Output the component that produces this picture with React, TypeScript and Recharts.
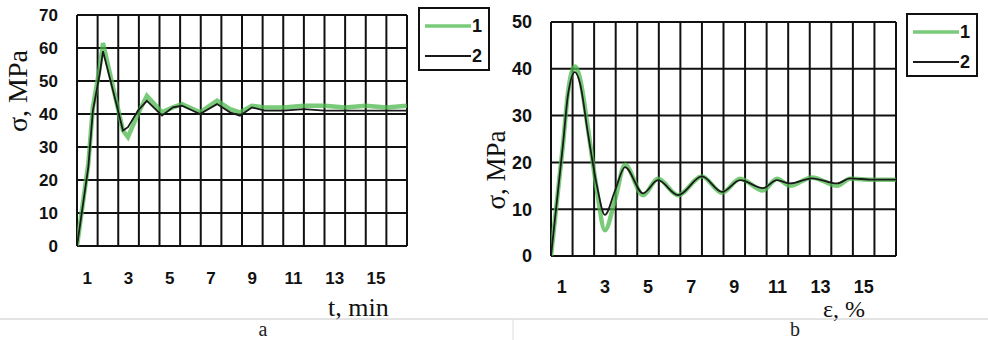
import React from "react";
import { LineChart, Line, XAxis, YAxis, CartesianGrid, ReferenceLine, Legend } from "recharts";

// panel a: stress vs time
const tA = [0.5, 1.05, 1.27, 1.6, 1.76, 2.25, 2.73, 2.97, 3.45, 3.89, 4.62, 5.15, 5.59, 6.12, 6.46, 7.29, 7.92, 8.4, 8.98, 9.6, 10.5, 11.5, 12.5, 13.5, 14.5, 15.5, 16.5];
const s1A = [0, 25, 42, 54, 61.5, 48, 35, 33, 40, 45.5, 40.5, 42, 43, 41.5, 40.5, 44, 41.5, 40.5, 42.5, 42, 42, 42.5, 42.5, 42, 42.5, 42, 42.5];
const s2A = [0, 24, 41, 52, 59, 47, 35, 36, 41, 44, 39.5, 42, 42.5, 41, 40, 43, 40.5, 39.5, 42, 41, 41, 41.5, 41, 41, 41, 41, 41];

// panel b: stress vs strain
const tB = [0.5, 1.06, 1.29, 1.61, 1.84, 2.22, 2.63, 3.0, 3.47, 3.93, 4.77, 5.46, 6.39, 7.5, 8.43, 9.27, 10.33, 10.98, 11.58, 12.6, 13.77, 14.37, 15.4, 16.5];
const s1B = [0, 24, 35, 40.5, 38, 27, 14, 5.5, 12, 19.5, 13, 16.5, 13, 17, 13.5, 16.5, 14, 16.5, 15, 16.8, 15, 16.5, 16.3, 16.3];
const s2B = [0, 24, 34.5, 39.3, 37, 26, 15, 8.8, 14, 19, 13.4, 16.2, 13, 17, 13.7, 16.2, 14.5, 16.2, 15.5, 16.6, 15.5, 16.6, 16.3, 16.3];

const xTicks = [1, 3, 5, 7, 9, 11, 13, 15];
const cellEdges = [0.5, 1.5, 2.5, 3.5, 4.5, 5.5, 6.5, 7.5, 8.5, 9.5, 10.5, 11.5, 12.5, 13.5, 14.5, 15.5, 16.5];
const yTicksA = [0, 10, 20, 30, 40, 50, 60, 70];
const yTicksB = [0, 10, 20, 30, 40, 50];

const rowsA = tA.map((t, i) => ({ t, s1: s1A[i], s2: s2A[i] }));
const rowsB = tB.map((t, i) => ({ t, s1: s1B[i], s2: s2B[i] }));

const sans = "'Liberation Sans', Arial, sans-serif";
const serif = "'Liberation Serif', 'Times New Roman', serif";

const LegendBox = ({ payload }: any) => (
  <div style={{ width: 72, height: 64, border: "2px solid #111", boxSizing: "border-box", background: "#fff", padding: "2px 0 0 5px" }}>
    {(payload || []).map((p: any) => (
      <div key={p.value} style={{ display: "flex", alignItems: "center", height: 30 }}>
        <svg width={46} height={8}>
          <line x1={0} y1={4} x2={46} y2={4} stroke={p.color} strokeWidth={p.value === "1" ? 3.5 : 2} strokeOpacity={p.value === "1" ? 0.75 : 1} />
        </svg>
        <span style={{ fontFamily: sans, fontWeight: 700, fontSize: 18, color: "#111", marginLeft: 1 }}>{p.value}</span>
      </div>
    ))}
  </div>
);

function Panel({ rows, yMax, yTicks, width, yAxisW, margin, tickFont, xMargin, legendPos, curve }: any) {
  return (
    <LineChart width={width} height={320} data={rows} margin={margin}>
      <CartesianGrid vertical={false} stroke="#111" strokeWidth={2} />
      {cellEdges.map(e => (
        <ReferenceLine key={e} x={e} stroke="#111" strokeWidth={2} />
      ))}
      <XAxis type="number" dataKey="t" domain={[0.5, 16.5]} ticks={xTicks} interval={0} allowDataOverflow axisLine={false} tickLine={false} tickSize={0} tickMargin={xMargin} height={40}
        tick={{ fill: "#111", fontSize: tickFont, fontWeight: 700, fontFamily: sans }} />
      <YAxis type="number" domain={[0, yMax]} ticks={yTicks} interval={0} width={yAxisW} axisLine={false} tickLine={false} tickSize={0} tickMargin={19}
        tick={{ fill: "#111", fontSize: tickFont, fontWeight: 700, fontFamily: sans }} />
      <Line name="1" dataKey="s1" type={curve} stroke="#4cb84c" strokeOpacity={0.75} strokeWidth={4.5} dot={false} isAnimationActive={false} />
      <Line name="2" dataKey="s2" type={curve} stroke="#1a1a1a" strokeWidth={1.8} dot={false} isAnimationActive={false} />
      <Legend layout="vertical" align="center" verticalAlign="middle" content={LegendBox as any}
        wrapperStyle={{ left: legendPos[0], top: legendPos[1], width: 72 }} />
    </LineChart>
  );
}

export default function App() {
  return (
    <div style={{ position: "absolute", left: 0, top: 0, width: 988, height: 340, background: "#fff", overflow: "hidden" }}>
      <div style={{ position: "absolute", left: 0, top: 0 }}>
        <Panel rows={rowsA} yMax={70} yTicks={yTicksA} width={500} yAxisW={77}
          margin={{ top: 15, right: 93, bottom: 34, left: 0 }} tickFont={17} xMargin={26} legendPos={[418, 7]} curve="linear" />
      </div>
      <div style={{ position: "absolute", left: 494, top: 0 }}>
        <Panel rows={rowsB} yMax={50} yTicks={yTicksB} width={494} yAxisW={57}
          margin={{ top: 22, right: 92, bottom: 24, left: 0 }} tickFont={18} xMargin={24} legendPos={[412, 13]} curve="monotone" />
      </div>
      <svg width={988} height={340} style={{ position: "absolute", left: 0, top: 0, pointerEvents: "none" }}>
        <text transform="translate(27,91) rotate(-90)" textAnchor="middle" fontFamily={serif} fontSize={28} fill="#111">σ, MPa</text>
        <text transform="translate(505,170) rotate(-90)" textAnchor="middle" fontFamily={serif} fontSize={27} fill="#111">σ, MPa</text>
        <text x={328} y={316} fontFamily={serif} fontSize={26} fill="#111">t, min</text>
        <text x={823} y={317} fontFamily={serif} fontSize={24} fill="#111">ε, %</text>
        <line x1={0} y1={319} x2={988} y2={319} stroke="#c8c8c8" strokeWidth={1} />
        <line x1={513} y1={319} x2={513} y2={340} stroke="#dcdcdc" strokeWidth={1} />
        <text x={263} y={336} textAnchor="middle" fontFamily={serif} fontSize={20} fill="#222">a</text>
        <text x={795} y={336} textAnchor="middle" fontFamily={serif} fontSize={20} fill="#222">b</text>
      </svg>
    </div>
  );
}
